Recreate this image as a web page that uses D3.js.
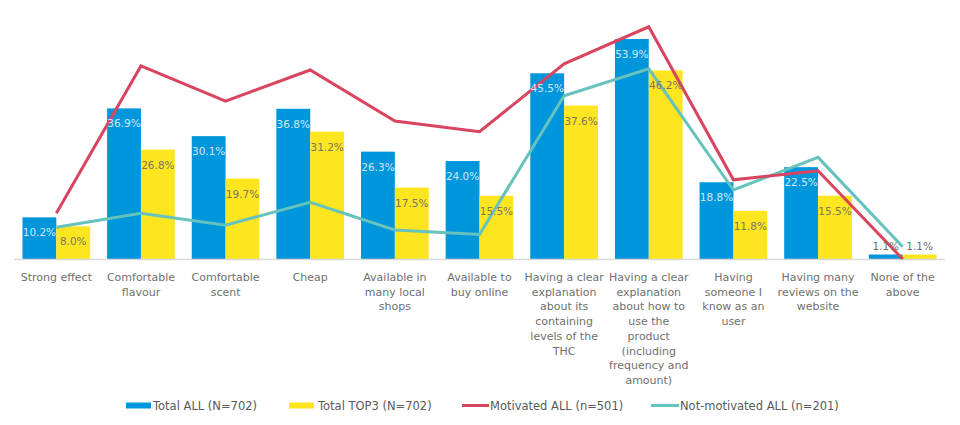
<!DOCTYPE html>
<html><head><meta charset="utf-8">
<script src="https://cdn.jsdelivr.net/npm/d3@7"></script>
<style>body{margin:0;background:#fff;} svg{display:block;font-family:"DejaVu Sans",Verdana,sans-serif;}</style>
</head><body><svg id="c" width="960" height="425"></svg>
<script>
const categories = [
  ["Strong effect"],
  ["Comfortable","flavour"],
  ["Comfortable","scent"],
  ["Cheap"],
  ["Available in","many local","shops"],
  ["Available to","buy online"],
  ["Having a clear","explanation","about its","containing","levels of the","THC"],
  ["Having a clear","explanation","about how to","use the","product","(including","frequency and","amount)"],
  ["Having","someone I","know as an","user"],
  ["Having many","reviews on the","website"],
  ["None of the","above"]
];
const totalAll = [10.2,36.9,30.1,36.8,26.3,24.0,45.5,53.9,18.8,22.5,1.1];
const totalTop3 = [8.0,26.8,19.7,31.2,17.5,15.5,37.6,46.2,11.8,15.5,1.1];
const motivated = [11.2,47.3,38.7,46.3,33.8,31.2,47.8,56.9,19.4,21.6,0.0];
const notMotivated = [7.8,11.2,8.3,13.9,7.1,6.0,40.0,46.6,16.9,24.9,3.0];
const legendLabels = ["Total ALL (N=702)","Total TOP3 (N=702)","Motivated ALL (n=501)","Not-motivated ALL (n=201)"];

const C = {blue:"#0096dc", yellow:"#fde61f", red:"#d9445f", teal:"#66c2bc", text:"#6f6f6f"};
const svg = d3.select("#c");
const idx = categories.map((d,i)=>i);
const x = d3.scaleBand().domain(idx).range([14,945]).paddingInner(0.2).paddingOuter(0.1);
const x1 = d3.scaleBand().domain([0,1]).range([0,x.bandwidth()]);
const y = d3.scaleLinear().domain([0,60]).range([259,14.1]);

const series = [totalAll,totalTop3];
const colors = [C.blue,C.yellow];
series.forEach((s,k)=>{
  svg.append("g").selectAll("rect").data(s).join("rect")
    .attr("x",(d,i)=>x(i)+x1(k)).attr("width",x1.bandwidth())
    .attr("y",d=>y(d)).attr("height",d=>y(0)-y(d)).attr("fill",colors[k]);
});
// axis baseline
svg.append("line").attr("x1",14).attr("x2",945).attr("y1",y(0)+0.5).attr("y2",y(0)+0.5)
  .attr("stroke","#d9d9d9").attr("stroke-width",1.5);

// lines
const line = d3.line().x((d,i)=>x(i)+x.bandwidth()/2).y(d=>y(d));
svg.append("path").datum(notMotivated).attr("d",line).attr("fill","none").attr("stroke",C.teal).attr("stroke-width",3).attr("stroke-linejoin","miter");
svg.append("path").datum(motivated).attr("d",line).attr("fill","none").attr("stroke",C.red).attr("stroke-width",3).attr("stroke-linejoin","miter");

// value labels
series.forEach((s,k)=>{
  svg.append("g").selectAll("text").data(s).join("text")
    .attr("x",(d,i)=>x(i)+x1(k)+x1.bandwidth()/2)
    .attr("y",d=> d<5 ? y(d)-5 : y(d)+19)
    .attr("text-anchor","middle").attr("font-size",10.5)
    .attr("fill",d=> d<5 ? C.text : (k===0 ? "#cfe9fb" : "#7a7464"))
    .text(d=>d.toFixed(1)+"%");
});

// category labels
const cg = svg.append("g");
categories.forEach((lines,i)=>{
  const t = cg.append("text").attr("text-anchor","middle").attr("font-size",11).attr("fill",C.text)
    .attr("transform",`translate(${x(i)+x.bandwidth()/2},281)`);
  lines.forEach((l,j)=>t.append("tspan").attr("x",0).attr("y",j*14.7).text(l));
});

// legend
const lg = svg.append("g").attr("font-size",11.5).attr("fill","#595959");
const lx = [126,289,462,651];
const tx = [153,318,490,680];
legendLabels.forEach((l,k)=>{
  if(k<2){
    lg.append("rect").attr("x",lx[k]).attr("y",402.5).attr("width",25).attr("height",6).attr("fill",colors[k]);
  } else {
    lg.append("line").attr("x1",lx[k]).attr("x2",tx[k]-1).attr("y1",405.5).attr("y2",405.5)
      .attr("stroke",k===2?C.red:C.teal).attr("stroke-width",3);
  }
  lg.append("text").attr("x",tx[k]).attr("y",409.5).text(l);
});
</script></body></html>
